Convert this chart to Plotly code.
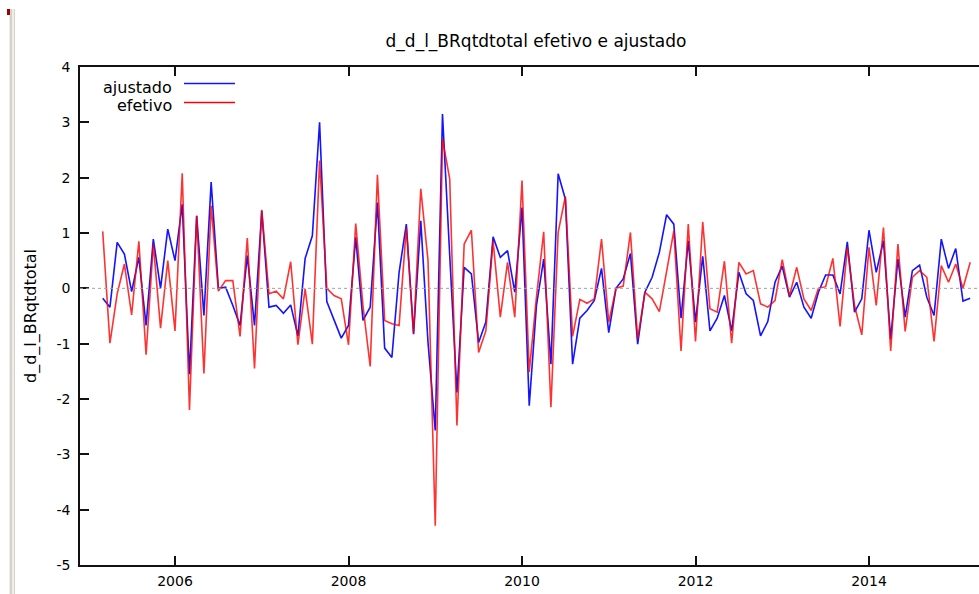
import plotly.graph_objects as go
import pandas as pd

# Monthly observations 2005:03 - 2015:03
periods = pd.period_range("2005-03", "2015-03", freq="M")
x_years = [p.year + (p.month - 1) / 12 for p in periods]

ajustado = [
    -0.18, -0.34, 0.83, 0.62, -0.06, 0.56, -0.67, 0.89, 0.00, 1.07,
    0.50, 1.52, -1.55, 1.31, -0.49, 1.92, 0.00, 0.02, -0.31, -0.67,
    0.59, -0.67, 1.40, -0.34, -0.31, -0.45, -0.30, -0.86, 0.54, 0.95,
    3.00, -0.24, -0.57, -0.90, -0.67, 0.92, -0.58, -0.34, 1.55, -1.08,
    -1.25, 0.29, 1.16, -0.83, 1.22, -0.98, -2.57, 3.15, 0.60, -1.88,
    0.38, 0.26, -0.98, -0.61, 0.93, 0.56, 0.68, -0.07, 1.46, -2.12,
    -0.31, 0.53, -1.37, 2.07, 1.61, -1.37, -0.54, -0.40, -0.22, 0.36,
    -0.80, 0.00, 0.17, 0.63, -1.01, -0.07, 0.20, 0.65, 1.33, 1.16,
    -0.54, 0.86, -0.61, 0.58, -0.77, -0.54, -0.13, -0.77, 0.29, -0.10,
    -0.22, -0.86, -0.60, 0.11, 0.40, -0.16, 0.11, -0.34, -0.54, -0.07,
    0.24, 0.24, -0.10, 0.84, -0.43, -0.19, 1.05, 0.29, 0.86, -0.92,
    0.53, -0.52, 0.32, 0.42, -0.16, -0.49, 0.89, 0.36, 0.72, -0.23,
    -0.18,
]

efetivo = [
    1.03, -0.99, -0.10, 0.44, -0.48, 0.85, -1.20, 0.80, -0.72, 0.50,
    -0.77, 2.08, -2.20, 1.31, -1.54, 1.49, -0.05, 0.14, 0.14, -0.87,
    0.91, -1.45, 1.42, -0.10, -0.05, -0.19, 0.48, -1.02, -0.01, -1.01,
    2.31, 0.00, -0.13, -0.19, -1.02, 1.17, -0.31, -1.41, 2.05, -0.58,
    -0.64, -0.67, 1.10, -0.81, 1.80, 0.50, -4.29, 2.70, 1.98, -2.48,
    0.80, 1.05, -1.16, -0.77, 0.86, -0.52, 0.47, -0.52, 1.95, -1.51,
    -0.16, 1.02, -2.15, 1.01, 1.66, -0.87, -0.20, -0.27, -0.19, 0.89,
    -0.61, 0.00, 0.04, 1.01, -0.92, -0.07, -0.19, -0.42, 0.30, 1.04,
    -1.13, 1.16, -0.96, 1.20, -0.37, -0.43, 0.49, -0.99, 0.47, 0.26,
    0.32, -0.28, -0.34, -0.22, 0.52, -0.14, 0.38, -0.19, -0.40, 0.00,
    0.03, 0.54, -0.69, 0.74, -0.31, -0.84, 0.74, -0.31, 1.10, -1.13,
    0.80, -0.78, 0.20, 0.32, 0.20, -0.96, 0.41, 0.11, 0.44, 0.00,
    0.47,
]

x_tickvals = [2006, 2008, 2010, 2012, 2014]
x_ticktext = ["2006", "2008", "2010", "2012", "2014"]
y_tickvals = [4, 3, 2, 1, 0, -1, -2, -3, -4, -5]
y_ticktext = ["4", "3", "2", "1", "0", "-1", "-2", "-3", "-4", "-5"]

W, H = 979, 594
L, R, T, B = 80, 0, 67, 29
PW, PH = W - L - R, H - T - B

def px(xp):
    return (xp - L) / PW

def py(yp):
    return (H - B - yp) / PH

FONT = "DejaVu Sans, Liberation Sans, sans-serif"

fig = go.Figure()
fig.add_trace(go.Scatter(x=x_years, y=ajustado, mode="lines", name="ajustado",
                         line=dict(color="rgb(20,20,255)", width=1.6)))
fig.add_trace(go.Scatter(x=x_years, y=efetivo, mode="lines", name="efetivo",
                         line=dict(color="rgb(255,0,0)", width=1.6), opacity=0.8))

shapes = [
    # zero reference line
    dict(type="line", xref="paper", yref="y", x0=0, x1=1, y0=0, y1=0,
         line=dict(color="#a0a0a0", width=1, dash="dot")),
    # legend samples
    dict(type="line", xref="paper", yref="paper", x0=px(184), x1=px(235),
         y0=py(83.5), y1=py(83.5), line=dict(color="rgb(20,20,255)", width=1.6)),
    dict(type="line", xref="paper", yref="paper", x0=px(184), x1=px(235),
         y0=py(102.5), y1=py(102.5), line=dict(color="rgb(255,0,0)", width=1.6)),
    # window decoration at left edge
    dict(type="rect", xref="paper", yref="paper", x0=px(9), x1=px(15),
         y0=py(594), y1=py(9), fillcolor="#eeede8", line=dict(width=0), layer="above"),
    dict(type="line", xref="paper", yref="paper", x0=px(11), x1=px(11),
         y0=py(594), y1=py(9), line=dict(color="#d4d2cb", width=2)),
    dict(type="line", xref="paper", yref="paper", x0=px(14.5), x1=px(14.5),
         y0=py(594), y1=py(9), line=dict(color="#d8d6d0", width=1)),
    dict(type="rect", xref="paper", yref="paper", x0=px(7), x1=px(10),
         y0=py(15), y1=py(9), fillcolor="#a00000", line=dict(width=0)),
]

annotations = [
    dict(text="ajustado", xref="paper", yref="paper", x=px(174), y=py(87),
         xanchor="right", yanchor="middle", showarrow=False,
         font=dict(family=FONT, size=16, color="#000")),
    dict(text="efetivo", xref="paper", yref="paper", x=px(174), y=py(106),
         xanchor="right", yanchor="middle", showarrow=False,
         font=dict(family=FONT, size=16, color="#000")),
]

fig.update_layout(
    width=W, height=H,
    margin=dict(l=L, r=R, t=T, b=B, pad=0),
    paper_bgcolor="white", plot_bgcolor="white",
    showlegend=False,
    title=dict(text="d_d_l_BRqtdtotal efetivo e ajustado", x=(536) / W, xanchor="center",
               y=1 - 41 / H, yanchor="middle",
               font=dict(family=FONT, size=17, color="#000")),
    shapes=shapes,
    annotations=annotations,
    xaxis=dict(range=[2006 - 95 / 86.75, 2006 + (979 - 175) / 86.75],
               tickvals=x_tickvals, ticktext=x_ticktext,
               ticks="inside", ticklen=9, tickwidth=1.5, tickcolor="#111",
               showline=True, linecolor="#111", linewidth=1.5, mirror="ticks",
               showgrid=False, zeroline=False, ticklabelstandoff=2,
               tickfont=dict(family=FONT, size=14, color="#000")),
    yaxis=dict(range=[-5, 4], tickvals=y_tickvals, ticktext=y_ticktext,
               ticks="inside", ticklen=9, tickwidth=1.5, tickcolor="#111",
               showline=True, linecolor="#111", linewidth=1.5,
               showgrid=False, zeroline=False, ticklabelstandoff=5,
               title=dict(text="d_d_l_BRqtdtotal", standoff=16,
                          font=dict(family=FONT, size=16, color="#000")),
               tickfont=dict(family=FONT, size=14, color="#000")),
)

fig.write_html("out.html")
